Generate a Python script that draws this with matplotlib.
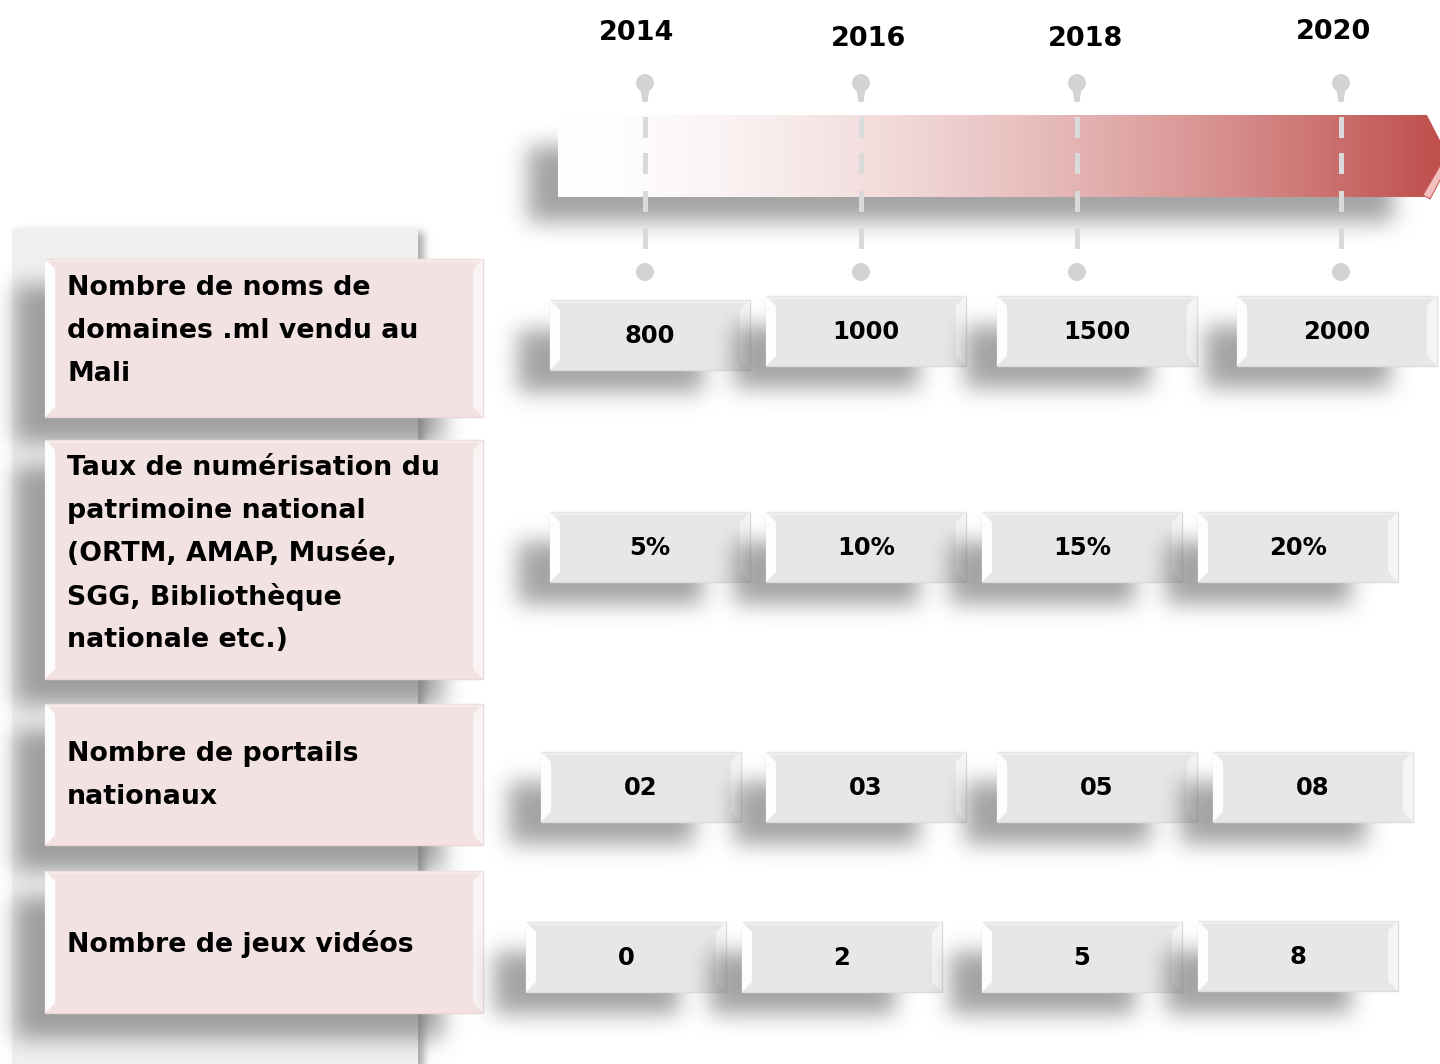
import matplotlib
matplotlib.use('Agg')
import matplotlib.pyplot as plt
from matplotlib.patches import Rectangle, Polygon, Circle
import numpy as np

plt.rcParams['font.family'] = ['DejaVu Sans']

# ---- data ---------------------------------------------------------------
years = ['2014', '2016', '2018', '2020']
row_labels = [
    'Nombre de noms de\ndomaines .ml vendu au\nMali',
    'Taux de numérisation du\npatrimoine national\n(ORTM, AMAP, Musée,\nSGG, Bibliothèque\nnationale etc.)',
    'Nombre de portails\nnationaux',
    'Nombre de jeux vidéos',
]
domaines = ['800', '1000', '1500', '2000']
numerisation = ['5%', '10%', '15%', '20%']
portails = ['02', '03', '05', '08']
jeux = ['0', '2', '5', '8']
row_values = [domaines, numerisation, portails, jeux]

# ---- layout (pixels) ----------------------------------------------------
year_x = [637, 869, 1085, 1333]
year_y = [33, 39, 39, 32]
pin_x = [645, 861, 1077, 1341]
label_boxes = [(45, 259, 438, 158), (45, 440, 438, 239),
               (45, 704, 438, 141), (45, 871, 438, 142)]
label_first_y = [288, 468, 754, 944]
line_gap = 43
val_w, val_h = 200, 70
val_pos = [
    [(550, 300), (766, 296), (997, 296), (1237, 296)],
    [(550, 512), (766, 512), (982, 512), (1198, 512)],
    [(541, 752), (766, 752), (997, 752), (1213, 752)],
    [(526, 922), (742, 922), (982, 922), (1198, 921)],
]

W, H = 1440, 1064
fig = plt.figure(figsize=(W / 100, H / 100), dpi=100)
ax = fig.add_axes([0, 0, 1, 1])
ax.set_xlim(0, W)
ax.set_ylim(H, 0)
ax.axis('off')


def blur1d(n, pad, sigma):
    v = np.zeros(n + 2 * pad)
    v[pad:pad + n] = 1.0
    k = np.arange(-3 * sigma, 3 * sigma + 1)
    k = np.exp(-0.5 * (k / sigma) ** 2)
    k /= k.sum()
    return np.convolve(v, k, mode='same')


def shadow(x0, y0, w, h, sigma=12, alpha=0.6, color=(0.45, 0.45, 0.45), z=1):
    pad = int(3 * sigma)
    a = np.outer(blur1d(int(h), pad, sigma), blur1d(int(w), pad, sigma))
    img = np.zeros(a.shape + (4,))
    img[..., :3] = color
    img[..., 3] = a * alpha
    ax.imshow(img, extent=(x0 - pad, x0 + w + pad, y0 + h + pad, y0 - pad),
              origin='upper', interpolation='bilinear', zorder=z, aspect='auto')


def bevel_box(x0, y0, w, h, fc, ec, z, b=10):
    x1, y1 = x0 + w, y0 + h
    ax.add_patch(Rectangle((x0, y0), w, h, fc=fc, ec=ec, lw=1, zorder=z))
    ax.add_patch(Polygon([(x0, y0), (x0 + b, y0 + b), (x0 + b, y1 - b), (x0, y1)],
                         closed=True, fc='white', ec='none', alpha=0.95, zorder=z + 0.1))
    ax.add_patch(Polygon([(x1, y0), (x1 - b, y0 + b), (x1 - b, y1 - b), (x1, y1)],
                         closed=True, fc='white', ec='none', alpha=0.6, zorder=z + 0.1))
    ax.add_patch(Polygon([(x0, y0), (x1, y0), (x1 - 3, y0 + 3), (x0 + 3, y0 + 3)],
                         closed=True, fc='white', ec='none', alpha=0.3, zorder=z + 0.1))


# ---- left panel ---------------------------------------------------------
shadow(18, 232, 406, 840, sigma=4, alpha=0.6, z=1)
ax.add_patch(Rectangle((12, 228), 406, 840, fc='#f0f0f0', ec='none', zorder=1.5))

for i, (bx, by, bw, bh) in enumerate(label_boxes):
    shadow(bx - 30, by + 26, bw - 10, bh, sigma=11, alpha=0.65, z=2)
for i, (bx, by, bw, bh) in enumerate(label_boxes):
    bevel_box(bx, by, bw, bh, '#f3e2e2', '#ecd6d6', z=3)
    for j, line in enumerate(row_labels[i].split('\n')):
        ax.text(67, label_first_y[i] + j * line_gap, line, ha='left', va='center',
                fontsize=19.3, fontweight='bold', color='black', zorder=5)

# ---- timeline arrow -----------------------------------------------------
shadow(528, 146, 865, 76, sigma=11, alpha=0.65, z=2)
arrow_pts = [(558, 115), (1427, 115), (1448, 156), (1427, 197), (558, 197)]
arrow = Polygon(arrow_pts, closed=True, fc='none', ec='none', zorder=3)
ax.add_patch(arrow)
t = np.linspace(0, 1, 400)
mix = t ** 1.6
white = np.array([1.0, 1.0, 1.0])
red = np.array([0.75, 0.31, 0.30])
grad = (white[None, :] * (1 - mix[:, None]) + red[None, :] * mix[:, None])[None, :, :]
im = ax.imshow(grad, extent=(558, 1440, 197, 115), origin='upper',
               interpolation='bilinear', aspect='auto', zorder=3)
im.set_clip_path(arrow)
ax.add_patch(Polygon([(1441, 164), (1447, 167), (1430, 199), (1423, 195)],
                     closed=True, fc='#f3c0c0', ec='#c65b58', lw=0.8, zorder=3.2))

# pins and dashed guides
for px in pin_x:
    ax.add_patch(Circle((px, 83), 9, fc='#d3d3d3', ec='none', zorder=4))
    ax.add_patch(Polygon([(px - 5, 86), (px + 5, 86), (px + 2.5, 102), (px - 2.5, 102)],
                         closed=True, fc='#d3d3d3', ec='none', zorder=4))
    for dy in (117, 153, 191, 228):
        ax.add_patch(Rectangle((px - 2.5, dy), 5, 21, fc='#dadada', ec='none', zorder=4))
    ax.add_patch(Circle((px, 272), 9, fc='#d3d3d3', ec='none', zorder=4))

for yr, x, y in zip(years, year_x, year_y):
    ax.text(x, y, yr, ha='center', va='center', fontsize=19.5,
            fontweight='bold', color='black', zorder=5)

# ---- value boxes --------------------------------------------------------
z = 6
for r, vals in enumerate(row_values):
    for c, v in enumerate(vals):
        x0, y0 = val_pos[r][c]
        shadow(x0 - 32, y0 + 30, val_w - 15, val_h - 8, sigma=11, alpha=0.65, z=z)
        bevel_box(x0, y0, val_w, val_h, '#e7e7e7', '#dcdcdc', z=z + 0.3)
        ax.text(x0 + val_w / 2, y0 + val_h / 2 + 1, v, ha='center', va='center',
                fontsize=17.5, fontweight='bold', color='black', zorder=z + 0.6)
        z += 1

fig.savefig('out.png', dpi=100)
